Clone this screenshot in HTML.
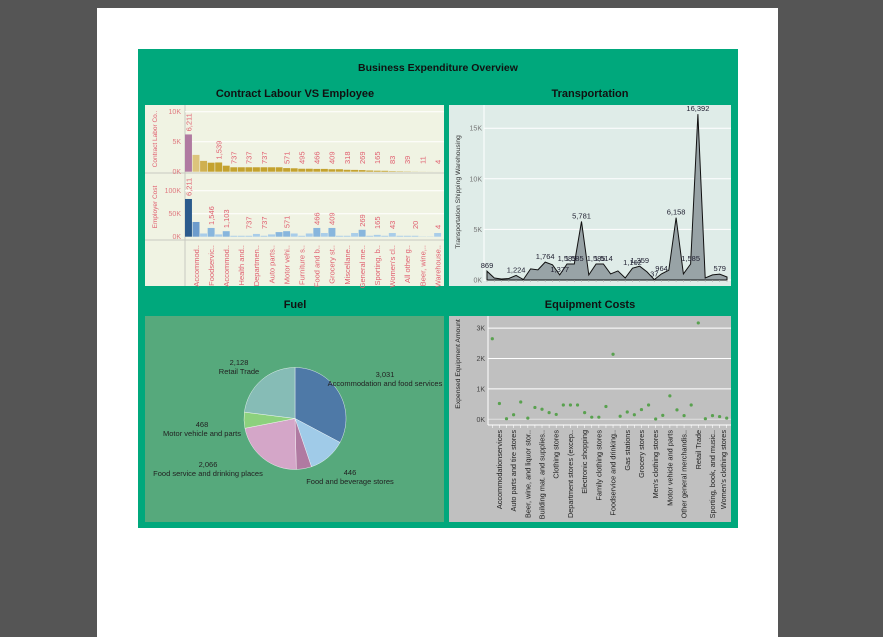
<!DOCTYPE html>
<html><head><meta charset="utf-8">
<style>
html,body{margin:0;padding:0;background:#555;}
svg{display:block;font-family:"Liberation Sans",sans-serif;}
</style></head>
<body>
<svg id="root" width="883" height="637" viewBox="0 0 883 637" xmlns="http://www.w3.org/2000/svg">
<rect x="0" y="0" width="883" height="637" fill="#555555"/>
<rect x="97" y="8" width="681" height="629" fill="#ffffff"/>
<rect x="138" y="49" width="600" height="479" fill="#00a87c"/>
<text x="438" y="71" text-anchor="middle" font-size="10.5" font-weight="bold" fill="#111">Business Expenditure Overview</text>
<text x="295" y="97" text-anchor="middle" font-size="11" font-weight="bold" fill="#111">Contract Labour VS Employee</text>
<text x="590" y="97" text-anchor="middle" font-size="11" font-weight="bold" fill="#111">Transportation</text>
<text x="295" y="308" text-anchor="middle" font-size="11" font-weight="bold" fill="#111">Fuel</text>
<text x="590" y="308" text-anchor="middle" font-size="11" font-weight="bold" fill="#111">Equipment Costs</text>
<rect x="145" y="105" width="299" height="181" fill="#f0f3e3"/>
<rect x="449" y="105" width="282" height="181" fill="#dfece8"/>
<rect x="145" y="316" width="299" height="206" fill="#56a97c"/>
<rect x="449" y="316" width="282" height="206" fill="#c0c0c0"/>
<g id="g1"></g><g id="g2"></g><g id="g3"></g><g id="g4"></g>
</svg>
<script>
// ---- Contract labour vs employee ----
const clCategories = ["Accommod..","Foodservic..","Accommod..","Health and..","Departmen..","Auto parts..","Motor vehi..","Furniture s..","Food and b..","Grocery st..","Miscellane..","General me..","Sporting, b..","Women's cl..","All other g..","Beer, wine,..","Warehouse.."];
const contractValues = [6211,2800,1800,1500,1539,1000,737,737,737,737,737,737,737,600,571,495,495,466,466,409,409,318,300,269,200,165,150,83,60,39,20,11,6,4];
const contractLabels = ["6,211",null,null,null,"1,539",null,"737",null,"737",null,"737",null,null,"571",null,"495",null,"466",null,"409",null,"318",null,"269",null,"165",null,"83",null,"39",null,"11",null,"4"];
const employerValues = [82000,32000,7000,19000,5000,12000,2000,2000,2000,6000,2000,5000,10000,12000,7000,2000,7000,19000,8000,19000,2000,2000,8000,15000,2000,4000,2000,8000,2000,2000,2000,500,500,8000];
const employerLabels = ["6,211",null,null,"1,546",null,"1,103",null,null,"737",null,"737",null,null,"571",null,null,null,"466",null,"409",null,null,null,"269",null,"165",null,"43",null,null,"20",null,null,"4"];
const clTicks = [0,5000,10000], clTickLabels = ["0K","5K","10K"];
const emTicks = [0,50000,100000], emTickLabels = ["0K","50K","100K"];

// ---- Transportation ----
const trValues = [870,200,100,150,450,50,1100,1000,1764,1500,500,1585,1585,5781,500,1585,1585,600,900,200,1162,1359,800,40,600,964,6158,600,1585,16392,200,500,579,300];
const trLabels = ["869",null,null,null,"1,224",null,null,null,"1,764",null,"1,377","1,585","1,585","5,781",null,"1,585","1,514",null,null,null,"1,162","1,359",null,"37","964",null,"6,158",null,"1,585","16,392",null,null,"579",null];
const trTicks = [0,5000,10000,15000], trTickLabels = ["0K","5K","10K","15K"];

// ---- Fuel ----
const fuelNames = ["Accommodation and food services","","Food and beverage stores","Food service and drinking places","Motor vehicle and parts","Retail Trade"];
const fuelValues = [3031,1110,446,2066,468,2128];
const fuelLabels = ["3,031","","446","2,066","468","2,128"];

// ---- Equipment ----
const eqValues = [2650,520,20,150,570,40,390,330,220,160,470,470,470,220,70,70,420,2140,100,240,150,320,470,10,130,770,310,120,470,3170,20,120,90,40];
const eqLabels = [null,"Accommodationservices",null,"Auto parts and tire stores",null,"Beer, wine, and liquor stor..",null,"Building mat. and supplies..",null,"Clothing stores",null,"Department stores (excep..",null,"Electronic shopping",null,"Family clothing stores",null,"Foodservice and drinking..",null,"Gas stations",null,"Grocery stores",null,"Men's clothing stores",null,"Motor vehicle and parts",null,"Other general merchandis..",null,"Retail Trade",null,"Sporting, book, and music..",null,"Women's clothing stores"];
const eqTicks = [0,1000,2000,3000], eqTickLabels = ["0K","1K","2K","3K"];

const NS="http://www.w3.org/2000/svg";
function mk(parent,tag,attrs,text){const e=document.createElementNS(NS,tag);for(const k in attrs)e.setAttribute(k,attrs[k]);if(text!=null)e.textContent=text;parent.appendChild(e);return e;}

// ===== Chart 1 =====
(function(){
  const g=document.getElementById('g1');
  const x0=185,bw=7.55,n=contractValues.length;
  const yU=v=>171.7-v*0.006, yL=v=>236.7-v*0.00046;
  const xB=i=>x0+i*bw;
  mk(g,'line',{x1:x0,y1:105,x2:x0,y2:286,stroke:'#c8c8c0','stroke-width':1});
  mk(g,'line',{x1:145,y1:173,x2:444,y2:173,stroke:'#c8c8c0','stroke-width':1});
  mk(g,'line',{x1:145,y1:240,x2:444,y2:240,stroke:'#c8c8c0','stroke-width':1});
  clTicks.forEach((t,i)=>{const y=yU(t);
    if(i>0){const l=mk(g,'line',{x1:x0,y1:y,x2:444,y2:y,stroke:'#ffffff','stroke-width':1});}
    const tx=mk(g,'text',{x:181,y:y+2.5,'text-anchor':'end','font-size':7,fill:'#e07a80'},clTickLabels[i]);});
  emTicks.forEach((t,i)=>{const y=yL(t);
    if(i>0){const l=mk(g,'line',{x1:x0,y1:y,x2:444,y2:y,stroke:'#ffffff','stroke-width':1});}
    const tx=mk(g,'text',{x:181,y:y+2.5,'text-anchor':'end','font-size':7,fill:'#e07a80'},emTickLabels[i]);});
  let t=mk(g,'text',{transform:'translate(157,139) rotate(-90)','text-anchor':'middle','font-size':6.5,fill:'#e06070'},'Contract Labor Co..');
  
  t=mk(g,'text',{transform:'translate(157,207) rotate(-90)','text-anchor':'middle','font-size':6.5,fill:'#e06070'},'Employer Cost');
  
  const gold=['#b07aa1','#dcc47c','#cfb050','#c6a53c'];
  for(let i=0;i<n;i++){
    const c=i<3?gold[i]:'#c4a22e';
    const y=yU(contractValues[i]);
    const r=mk(g,'rect',{x:xB(i),y:y,width:bw-0.6,height:171.7-y,fill:c});
    
    if(contractLabels[i]){const cx=xB(i)+bw/2+2.5;const tl=mk(g,'text',{transform:`translate(${cx},${Math.min(y,167)-3}) rotate(-90)`,'font-size':7.5,fill:'#e06070'},contractLabels[i]);}
    const v=employerValues[i];const y2=yL(v);
    const ec=i===0?'#2b5a8c':(v>=30000?'#6d9ccc':(v>=9000?'#88b6dd':'#a9cde9'));
    const r2=mk(g,'rect',{x:xB(i),y:y2,width:bw-0.6,height:236.7-y2,fill:ec});
    
    if(employerLabels[i]){const cx=xB(i)+bw/2+2.5;const tl=mk(g,'text',{transform:`translate(${cx},${Math.min(y2,232)-3}) rotate(-90)`,'font-size':7.5,fill:'#e06070'},employerLabels[i]);}
  }
  clCategories.forEach((c,k)=>{const cx=xB(2*k+1)+bw/2+2.5;
    const tl=mk(g,'text',{transform:`translate(${cx},245) rotate(-90)`,'text-anchor':'end','font-size':7.5,fill:'#e06070'},c);
    });
})();

// ===== Chart 2 =====
(function(){
  const g=document.getElementById('g2');
  const x0=487,x1=727,n=trValues.length;
  const X=i=>x0+i*(x1-x0)/(n-1), Y=v=>280-v*0.01012;
  trTicks.forEach((t,i)=>{const y=Y(t);
    const l=mk(g,'line',{x1:484,y1:y,x2:731,y2:y,stroke:'#ffffff','stroke-width':1});
    const tx=mk(g,'text',{x:482,y:y+2.5,'text-anchor':'end','font-size':7,fill:'#777'},trTickLabels[i]);});
  mk(g,'line',{x1:484,y1:105,x2:484,y2:281,stroke:'#ffffff','stroke-width':1});
  let d=`M${X(0)},280`;trValues.forEach((v,i)=>{d+=` L${X(i).toFixed(1)},${Y(v).toFixed(1)}`;});d+=` L${X(n-1)},280 Z`;
  const a=mk(g,'path',{d:d,fill:'#98a3a6',stroke:'#111','stroke-width':1,'stroke-linejoin':'miter'});
  
  for(let i=0;i<n;i++){const tk=mk(g,'line',{x1:X(i),y1:280,x2:X(i),y2:282,stroke:'#aaa','stroke-width':0.6});}
  trLabels.forEach((s,i)=>{if(!s)return;const tl=mk(g,'text',{x:X(i),y:Y(trValues[i])-3,'text-anchor':'middle','font-size':7.5,fill:'#223'},s);});
  const t=mk(g,'text',{transform:'translate(460,192) rotate(-90)','text-anchor':'middle','font-size':6.8,fill:'#333'},'Transportation Shipping Warehousing');
  
})();

// ===== Chart 3 (pie) =====
(function(){
  const g=document.getElementById('g3');
  const cx=295,cy=418.5,r=51;
  const colors=['#4e79a7','#a0cbe8','#b07aa1','#d4a6c8','#8cd17d','#86bcb6'];
  const total=fuelValues.reduce((a,b)=>a+b,0);
  let ang=0;
  fuelValues.forEach((v,i)=>{const a0=ang,a1=ang+v/total*2*Math.PI;ang=a1;
    const p=(a)=>[cx+r*Math.sin(a),cy-r*Math.cos(a)];
    const [sx,sy]=p(a0),[ex,ey]=p(a1);const large=(a1-a0)>Math.PI?1:0;
    const s=mk(g,'path',{d:`M${cx},${cy} L${sx},${sy} A${r},${r} 0 ${large} 1 ${ex},${ey} Z`,fill:colors[i],stroke:'#ffffff','stroke-width':0.4});
    });
  const pos=[[385,386],null,[350,484],[208,476],[202,436],[239,374]];
  fuelLabels.forEach((s,i)=>{if(!pos[i])return;const [x,y]=pos[i];
    const a=mk(g,'text',{x:x,y:y-9,'text-anchor':'middle','font-size':7.5,fill:'#222'},s);
    const b=mk(g,'text',{x:x,y:y,'text-anchor':'middle','font-size':7.5,fill:'#222'},fuelNames[i]);});
})();

// ===== Chart 4 (scatter) =====
(function(){
  const g=document.getElementById('g4');
  const x0=492.3,x1=726.7,n=eqValues.length;
  const X=i=>x0+i*(x1-x0)/(n-1), Y=v=>419.3-v*0.0304;
  eqTicks.forEach((t,i)=>{const y=Y(t);
    const l=mk(g,'line',{x1:488,y1:y,x2:731,y2:y,stroke:i===0?'#e0e0e0':'#ffffff','stroke-width':1});
    const tx=mk(g,'text',{x:485,y:y+2.5,'text-anchor':'end','font-size':7,fill:'#444'},eqTickLabels[i]);});
  mk(g,'line',{x1:488,y1:316,x2:488,y2:425,stroke:'#ffffff','stroke-width':1});
  mk(g,'line',{x1:488,y1:425,x2:731,y2:425,stroke:'#ffffff','stroke-width':1});
  eqValues.forEach((v,i)=>{const c=mk(g,'circle',{cx:X(i),cy:Y(v),r:1.6,fill:'#59a14f'});
    const tk=mk(g,'line',{x1:X(i),y1:425,x2:X(i),y2:428,stroke:'#fff','stroke-width':0.6});});
  eqLabels.forEach((s,i)=>{if(!s)return;let x=X(i);if(i===n-1)x=X(i)-3;
    const tl=mk(g,'text',{transform:`translate(${x+2.5},430) rotate(-90)`,'text-anchor':'end','font-size':7.3,fill:'#222'},s);});
  const t=mk(g,'text',{transform:'translate(460,364) rotate(-90)','text-anchor':'middle','font-size':6.8,fill:'#222'},'Expensed Equipment Amount');
  
})();
</script>
</body></html>
